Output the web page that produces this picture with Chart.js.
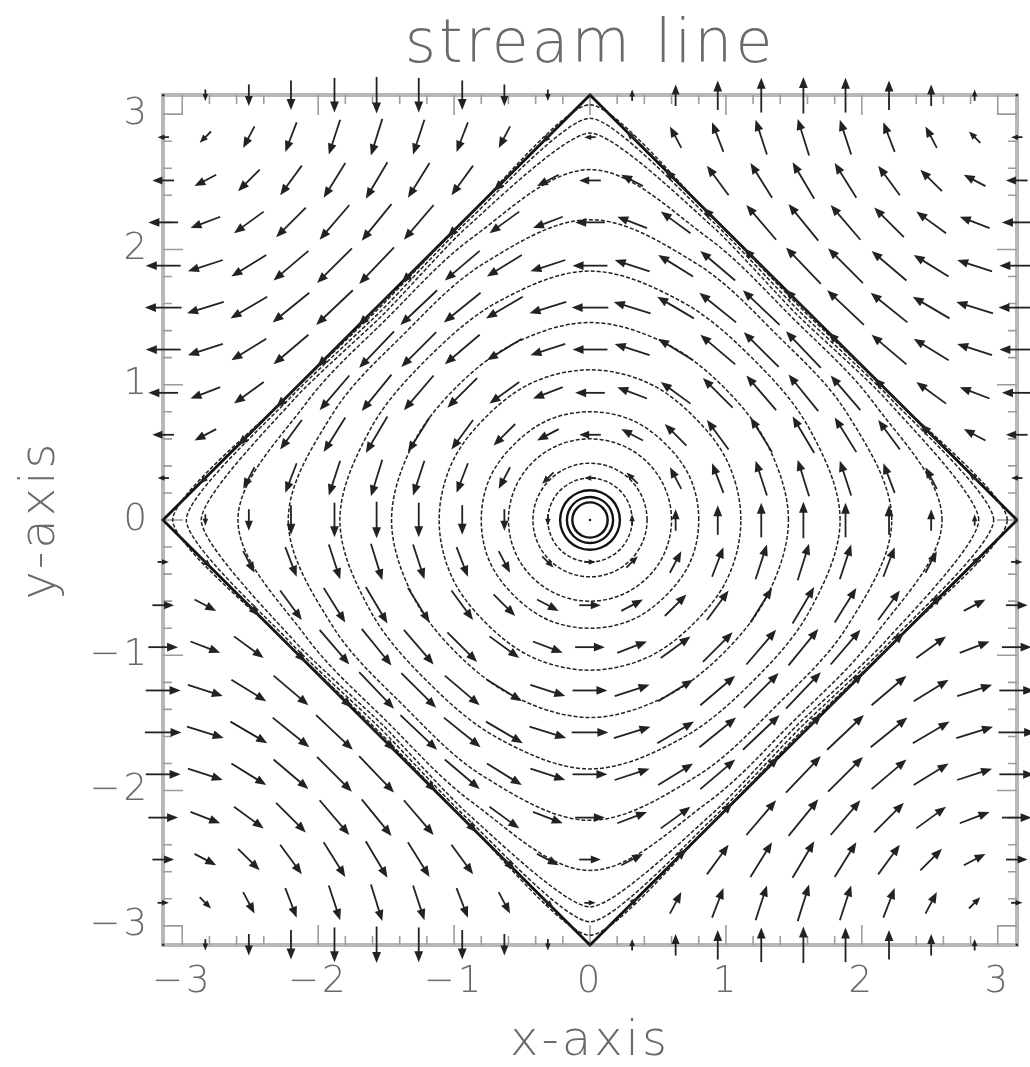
<!DOCTYPE html>
<html>
<head>
<meta charset="utf-8">
<script src="https://cdn.jsdelivr.net/npm/chart.js@4.4.1/dist/chart.umd.min.js"></script>
<style>
  html, body { margin: 0; padding: 0; background: #fff; }
  #wrap { width: 1030px; height: 1067px; }
</style>
</head>
<body>
<div id="wrap"><canvas id="myChart" width="1030" height="1067"></canvas></div>
<script>
// tick labels, same on both axes
const tickValues = [-3, -2, -1, 0, 1, 2, 3]

// arrow grid points (used for both x and y)
const gridPos = [-3.14, -2.83, -2.51, -2.20, -1.88, -1.57, -1.26, -0.94, -0.63, -0.31, 0,
                 0.31, 0.63, 0.94, 1.26, 1.57, 1.88, 2.20, 2.51, 2.83, 3.14]
// horizontal arrow component, one per row (bottom -> top)
const uRow = [0, 0.31, 0.59, 0.81, 0.95, 1.00, 0.95, 0.81, 0.59, 0.31, 0,
              -0.31, -0.59, -0.81, -0.95, -1.00, -0.95, -0.81, -0.59, -0.31, 0]
// vertical arrow component, one per column (left -> right)
const vCol = [0, -0.31, -0.59, -0.81, -0.95, -1.00, -0.95, -0.81, -0.59, -0.31, 0,
              0.31, 0.59, 0.81, 0.95, 1.00, 0.95, 0.81, 0.59, 0.31, 0]

// stream lines: distance from the centre on the axes, at 22.5 deg, and on the diagonals
const streamAxis = [0.13, 0.17, 0.22, 0.31, 0.42, 0.60, 0.80, 1.11, 1.46, 1.84, 2.22, 2.59, 2.86, 2.97, 3.07]
const streamMid  = [0.13, 0.17, 0.22, 0.31, 0.42, 0.60, 0.80, 1.10, 1.42, 1.75, 2.05, 2.26, 2.35, 2.38, 2.40]
const streamDiag = [0.13, 0.17, 0.22, 0.31, 0.42, 0.60, 0.79, 1.08, 1.39, 1.69, 1.94, 2.11, 2.15, 2.18, 2.205]

// the diamond through the saddle points
const sepX = [3.1416, 0, -3.1416, 0, 3.1416]
const sepY = [0, 3.1416, 0, -3.1416, 0]

const arrowScale = 0.27
const textColor = '#6a6a6a'
const fam = "'DejaVu Sans', sans-serif"

// closed loop, one extra point on each end so the spline closes smoothly
const loopPoints = (k) => {
  const pts = []
  for (let m = -1; m <= 17; m++) {
    const mm = ((m % 16) + 16) % 16
    const r = mm % 4 === 0 ? streamAxis[k] : (mm % 4 === 2 ? streamDiag[k] : streamMid[k])
    const a = m * Math.PI / 8
    pts.push({ x: r * Math.cos(a), y: r * Math.sin(a) })
  }
  return pts
}

const streamSets = streamAxis.map((a, k) => {
  const col = k < 3 ? '#111' : '#222'
  return {
    data: loopPoints(k),
    borderColor: col,
    borderWidth: k < 3 ? 2.4 : 1.5,
    borderDash: k < 3 ? [] : [4, 2],
    tension: k >= 12 ? 0.2 : 0.34,
    pointRadius: 0,
    clip: false,
    segment: {
      borderColor: ctx => (ctx.p0DataIndex === 0 || ctx.p1DataIndex === 18) ? 'rgba(0,0,0,0)' : col
    }
  }
})

const sepSet = {
  data: sepX.map((x, i) => ({ x: x, y: sepY[i] })),
  borderColor: '#111',
  borderWidth: 2.8,
  tension: 0,
  pointRadius: 0,
  clip: false
}

const fmt = v => v < 0 ? '\u2212' + (-v) : String(v)

// the plot's lettering is wide, spread the glyphs a little
const spacingPlugin = {
  id: 'spacing',
  beforeDraw(chart) { chart.ctx.letterSpacing = '3px' },
  afterDraw(chart) { chart.ctx.letterSpacing = '0px' }
}

const framePlugin = {
  id: 'frame',
  beforeDatasetsDraw(chart) {
    const { ctx, chartArea: ca, scales: { x, y } } = chart
    ctx.save()
    ctx.strokeStyle = '#b8b8b8'
    ctx.lineWidth = 4
    ctx.strokeRect(ca.left, ca.top, ca.width, ca.height)
    ctx.lineWidth = 1.6
    ctx.strokeStyle = '#9c9c9c'
    for (let n = -15; n <= 15; n++) {
      const t = n * 0.2
      const len = n % 5 === 0 ? 20 : 9
      const px = x.getPixelForValue(t), py = y.getPixelForValue(t)
      ctx.beginPath()
      ctx.moveTo(px, ca.bottom); ctx.lineTo(px, ca.bottom - len)
      ctx.moveTo(px, ca.top); ctx.lineTo(px, ca.top + len)
      ctx.moveTo(ca.left, py); ctx.lineTo(ca.left + len, py)
      ctx.moveTo(ca.right, py); ctx.lineTo(ca.right - len, py)
      ctx.stroke()
    }
    ctx.restore()
  }
}

const arrowPlugin = {
  id: 'arrows',
  afterDatasetsDraw(chart) {
    const { ctx, scales: { x, y } } = chart
    ctx.save()
    ctx.strokeStyle = '#222'
    ctx.fillStyle = '#222'
    ctx.lineWidth = 1.8
    gridPos.forEach((gy, j) => {
      gridPos.forEach((gx, i) => {
        const u = uRow[j] * arrowScale, v = vCol[i] * arrowScale
        const x0 = x.getPixelForValue(gx - u / 2), y0 = y.getPixelForValue(gy - v / 2)
        const x1 = x.getPixelForValue(gx + u / 2), y1 = y.getPixelForValue(gy + v / 2)
        const len = Math.hypot(x1 - x0, y1 - y0)
        if (len < 1) {
          ctx.beginPath()
          ctx.arc(x.getPixelForValue(gx), y.getPixelForValue(gy), 1.3, 0, Math.PI * 2)
          ctx.fill()
          return
        }
        const dx = (x1 - x0) / len, dy = (y1 - y0) / len
        const h = Math.min(11, len * 0.3 + 3.5), w = h * 0.4
        const bx = x1 - dx * h, by = y1 - dy * h
        ctx.beginPath()
        ctx.moveTo(x0, y0)
        ctx.lineTo(bx + dx * 2, by + dy * 2)
        ctx.stroke()
        ctx.beginPath()
        ctx.moveTo(x1, y1)
        ctx.lineTo(bx - dy * w, by + dx * w)
        ctx.lineTo(bx + dy * w, by - dx * w)
        ctx.closePath()
        ctx.fill()
      })
    })
    ctx.restore()
  }
}

const setTicks = s => { s.ticks = tickValues.map(v => ({ value: v })) }

new Chart(document.getElementById('myChart'), {
  type: 'line',
  data: { datasets: [...streamSets, sepSet] },
  options: {
    responsive: false,
    animation: false,
    events: [],
    layout: { padding: { top: 0, right: 13, bottom: 0, left: 0 } },
    plugins: {
      legend: { display: false },
      tooltip: { enabled: false },
      title: {
        display: true,
        fullSize: false,
        text: 'stream line',
        color: textColor,
        font: { family: fam, size: 60, weight: 200, lineHeight: 1 },
        padding: { top: 16, bottom: 19 }
      }
    },
    scales: {
      x: {
        type: 'linear',
        min: -Math.PI,
        max: Math.PI,
        afterBuildTicks: setTicks,
        afterFit: s => { s.height = 122 },
        grid: { display: false, drawTicks: false },
        border: { display: false },
        ticks: { color: textColor, font: { family: fam, size: 37, weight: 200 }, padding: 15,
                 autoSkip: false, maxRotation: 0, callback: fmt },
        title: { display: true, text: 'x-axis', color: textColor,
                 font: { family: fam, size: 48, weight: 200, lineHeight: 1 }, padding: { top: 0, bottom: 0 } }
      },
      y: {
        type: 'linear',
        min: -Math.PI,
        max: Math.PI,
        afterBuildTicks: setTicks,
        afterFit: s => { s.width = 163 },
        grid: { display: false, drawTicks: false },
        border: { display: false },
        ticks: { color: textColor, font: { family: fam, size: 37, weight: 200 }, padding: 13,
                 autoSkip: false, callback: fmt },
        title: { display: true, text: 'y-axis', color: textColor,
                 font: { family: fam, size: 48, weight: 200, lineHeight: 1 }, padding: { top: 18, bottom: 0 } }
      }
    }
  },
  plugins: [spacingPlugin, framePlugin, arrowPlugin]
})
</script>
</body>
</html>
